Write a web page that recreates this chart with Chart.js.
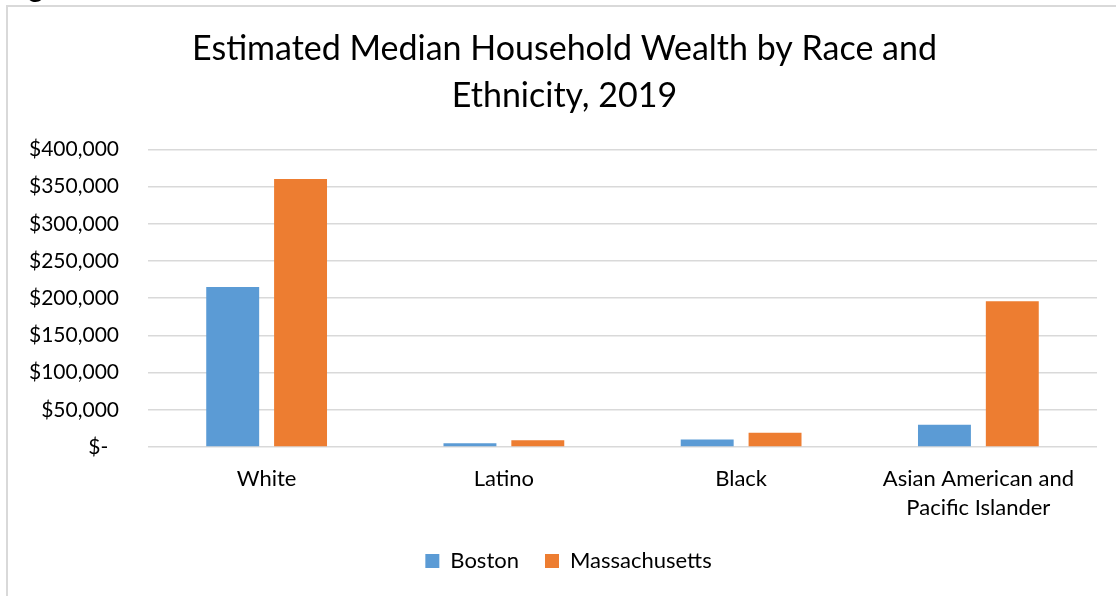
<!DOCTYPE html>
<html>
<head>
<meta charset="utf-8">
<script src="https://cdn.jsdelivr.net/npm/chart.js@4"></script>
<style>
  html, body { margin: 0; padding: 0; background: #fff; overflow: hidden; }
  #wrap { position: relative; width: 1116px; height: 596px; }
  #frame {
    position: absolute; left: 6px; top: 5px; width: 1120px; height: 600px;
    border-left: 2px solid #d9d9d9; border-top: 2px solid #d9d9d9;
    pointer-events: none;
  }
  #cut { position: absolute; left: 28px; top: -30px; font: 30px Lato, sans-serif; line-height: 30px; color: #000; }
</style>
</head>
<body>
<div id="wrap">
  <div id="cut">g</div>
  <canvas id="wealth-chart" width="1116" height="596"></canvas>
  <div id="frame"></div>
</div>
<script>
const categories = ["White", "Latino", "Black", ["Asian American and", "Pacific Islander"]];
const boston = [215000, 5000, 10000, 30000];
const massachusetts = [360000, 9000, 19000, 196000];
const yTicks = [0, 50000, 100000, 150000, 200000, 250000, 300000, 350000, 400000];

const FONT = "Lato, 'Open Sans', sans-serif";

const formatDollars = (v) => (v === 0 ? "$-  " : "$" + v.toLocaleString("en-US"));

// nudge title and legend a little to the right of the canvas centre
const shiftBlocks = {
  id: "shiftBlocks",
  afterLayout(chart) {
    chart.titleBlock.left += 12;
    chart.legend.left += 20;
  },
};

new Chart(document.getElementById("wealth-chart"), {
  type: "bar",
  data: {
    labels: categories,
    datasets: [
      {
        label: "Boston",
        data: boston,
        backgroundColor: "#5b9bd5",
        borderWidth: 0,
      },
      {
        label: "Massachusetts",
        data: massachusetts,
        backgroundColor: "#ed7d31",
        borderWidth: 0,
      },
    ],
  },
  plugins: [shiftBlocks],
  options: {
    responsive: false,
    animation: false,
    devicePixelRatio: 1,
    categoryPercentage: 0.572,
    barPercentage: 0.78,
    layout: { padding: { left: 20, right: 19, top: 6, bottom: 14 } },
    plugins: {
      title: {
        display: true,
        text: ["Estimated Median Household Wealth by Race and", "Ethnicity, 2019"],
        color: "#000",
        font: { family: FONT, size: 34, weight: "normal", lineHeight: 1.38 },
        padding: { top: 20, bottom: 29.5 },
      },
      legend: {
        position: "bottom",
        labels: {
          color: "#000",
          font: { family: FONT, size: 22 },
          boxWidth: 14,
          boxHeight: 14,
          padding: 26,
        },
      },
      tooltip: { enabled: false },
    },
    scales: {
      x: {
        grid: { display: false, drawTicks: false },
        border: { display: false },
        afterFit: (scale) => {
          scale.height = 77;
        },
        ticks: {
          color: "#000",
          font: { family: FONT, size: 22, lineHeight: 1.32 },
          padding: 17,
          maxRotation: 0,
        },
      },
      y: {
        min: 0,
        max: 400000,
        afterBuildTicks: (scale) => {
          scale.ticks = yTicks.map((v) => ({ value: v }));
        },
        afterFit: (scale) => {
          scale.width = 128;
        },
        grid: { color: "#d9d9d9", lineWidth: 1.5, drawTicks: false },
        border: { display: false },
        ticks: {
          color: "#000",
          font: { family: FONT, size: 21 },
          padding: 29,
          callback: formatDollars,
        },
      },
    },
  },
});
</script>
</body>
</html>
